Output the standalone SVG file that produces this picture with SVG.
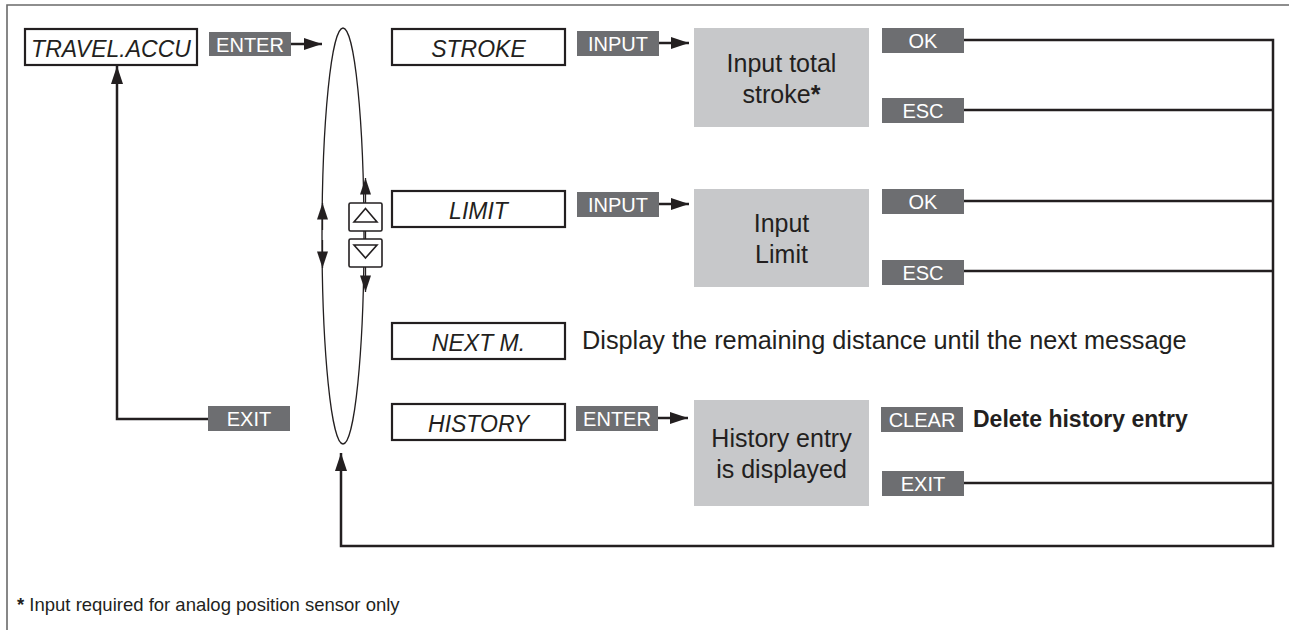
<svg xmlns="http://www.w3.org/2000/svg" width="1289" height="630" viewBox="0 0 1289 630">
<defs>
<style>
.box{fill:#fff;stroke:#231f20;stroke-width:2.2}
.it{font-family:"Liberation Sans",Arial,sans-serif;font-style:italic;font-size:23px;fill:#231f20;text-anchor:middle}
.btn{fill:#6d6e71}
.bt{font-family:"Liberation Sans",Arial,sans-serif;font-size:20px;fill:#fff;text-anchor:middle}
.gbox{fill:#c7c8ca}
.gt{font-family:"Liberation Sans",Arial,sans-serif;font-size:25px;fill:#231f20;text-anchor:middle}
.body{font-family:"Liberation Sans",Arial,sans-serif;font-size:25.3px;fill:#231f20}
.ln{fill:none;stroke:#231f20;stroke-width:2.5}
.thin{fill:none;stroke:#231f20;stroke-width:1.3}
</style>
<marker id="ah" viewBox="0 0 18 12" refX="18" refY="6" markerWidth="18" markerHeight="12" markerUnits="userSpaceOnUse" orient="auto">
<path d="M0,0 L18,6 L0,12 Z" fill="#231f20"/>
</marker>
<marker id="ahs" viewBox="0 0 18 12" refX="18" refY="6" markerWidth="17" markerHeight="11" markerUnits="userSpaceOnUse" orient="auto">
<path d="M0,0 L18,6 L0,12 Z" fill="#231f20"/>
</marker>
</defs>
<rect width="1289" height="630" fill="#fff"/>
<g id="frame">
<path d="M7,630 L7,5 L1289,5" fill="none" stroke="#6a6a6a" stroke-width="1.6"/>
</g>
<g id="connectors">
<line class="ln" x1="291" y1="44" x2="322" y2="44" marker-end="url(#ah)"/>
<line class="ln" x1="659" y1="43" x2="689" y2="43" marker-end="url(#ah)"/>
<line class="ln" x1="659" y1="204" x2="689" y2="204" marker-end="url(#ah)"/>
<line class="ln" x1="658" y1="418" x2="688" y2="418" marker-end="url(#ah)"/>
<path class="ln" d="M208,419 L117,419 L117,66" marker-end="url(#ah)"/>
<path class="ln" d="M964,40 L1273,40 L1273,546 L341,546 L341,453" marker-end="url(#ah)"/>
<line class="ln" x1="964" y1="110" x2="1273" y2="110"/>
<line class="ln" x1="964" y1="201" x2="1273" y2="201"/>
<line class="ln" x1="964" y1="271" x2="1273" y2="271"/>
<line class="ln" x1="964" y1="483" x2="1273" y2="483"/>
</g>
<g id="loop">
<ellipse cx="343" cy="236" rx="21" ry="208" class="thin"/>
<line x1="322.5" y1="230" x2="322.5" y2="203" class="thin" marker-end="url(#ahs)"/>
<line x1="322.5" y1="240" x2="322.5" y2="268" class="thin" marker-end="url(#ahs)"/>
<line x1="365.5" y1="205" x2="365.5" y2="178" class="thin" marker-end="url(#ahs)"/>
<line x1="365.5" y1="265" x2="365.5" y2="292" class="thin" marker-end="url(#ahs)"/>
</g>
<g id="updown">
<rect x="349" y="203" width="33" height="28" rx="1.5" fill="#fff" stroke="#231f20" stroke-width="1.6"/>
<rect x="349" y="239" width="33" height="28" rx="1.5" fill="#fff" stroke="#231f20" stroke-width="1.6"/>
<line x1="365.5" y1="231" x2="365.5" y2="239" class="thin"/>
<path d="M365.5,208.5 L377,222 L354,222 Z" fill="none" stroke="#231f20" stroke-width="1.6"/>
<path d="M365.5,258 L377,245 L354,245 Z" fill="none" stroke="#231f20" stroke-width="1.6"/>
</g>
<g id="travel-accu">
<rect class="box" x="25" y="29" width="172" height="36"/>
<text class="it" x="111" y="57">TRAVEL.ACCU</text>
</g>
<g id="enter-1"><rect class="btn" x="209" y="32" width="82" height="24"/><text class="bt" x="250" y="51.5">ENTER</text></g>
<g id="exit-1"><rect class="btn" x="208" y="406" width="82" height="25"/><text class="bt" x="249" y="425.5">EXIT</text></g>
<g id="stroke"><rect class="box" x="392" y="29" width="173" height="36"/><text class="it" x="478.5" y="57">STROKE</text></g>
<g id="input-1"><rect class="btn" x="577" y="31" width="82" height="25"/><text class="bt" x="618" y="50.5">INPUT</text></g>
<g id="input-total-stroke"><rect class="gbox" x="694" y="28" width="175" height="99"/>
<text class="gt" x="781.5" y="72">Input total</text><text class="gt" x="781.5" y="103">stroke<tspan font-weight="bold">*</tspan></text></g>
<g id="ok-1"><rect class="btn" x="882" y="28" width="82" height="25"/><text class="bt" x="923" y="47.5">OK</text></g>
<g id="esc-1"><rect class="btn" x="882" y="98" width="82" height="25"/><text class="bt" x="923" y="117.5">ESC</text></g>
<g id="limit"><rect class="box" x="392" y="191" width="173" height="36"/><text class="it" x="478.5" y="219">LIMIT</text></g>
<g id="input-2"><rect class="btn" x="577" y="192" width="82" height="25"/><text class="bt" x="618" y="211.5">INPUT</text></g>
<g id="input-limit"><rect class="gbox" x="694" y="189" width="175" height="98"/>
<text class="gt" x="781.5" y="232">Input</text><text class="gt" x="781.5" y="263">Limit</text></g>
<g id="ok-2"><rect class="btn" x="882" y="189" width="82" height="25"/><text class="bt" x="923" y="208.5">OK</text></g>
<g id="esc-2"><rect class="btn" x="882" y="260" width="82" height="25"/><text class="bt" x="923" y="279.5">ESC</text></g>
<g id="next-m"><rect class="box" x="392" y="323" width="173" height="36"/><text class="it" x="478.5" y="351">NEXT M.</text>
<text class="body" x="582" y="349">Display the remaining distance until the next message</text></g>
<g id="history"><rect class="box" x="392" y="404" width="173" height="36"/><text class="it" x="478.5" y="432">HISTORY</text></g>
<g id="enter-2"><rect class="btn" x="576" y="406" width="82" height="25"/><text class="bt" x="617" y="425.5">ENTER</text></g>
<g id="history-entry"><rect class="gbox" x="694" y="400" width="175" height="106"/>
<text class="gt" x="781.5" y="447">History entry</text><text class="gt" x="781.5" y="478">is displayed</text></g>
<g id="clear"><rect class="btn" x="881" y="407" width="82" height="25"/><text class="bt" x="922" y="426.5">CLEAR</text>
<text x="973" y="427" font-family="'Liberation Sans',Arial,sans-serif" font-size="23" font-weight="bold" fill="#231f20">Delete history entry</text></g>
<g id="exit-2"><rect class="btn" x="882" y="471" width="82" height="25"/><text class="bt" x="923" y="490.5">EXIT</text></g>
<g id="footnote"><text x="17" y="611" font-family="'Liberation Sans',Arial,sans-serif" font-size="18.5" fill="#231f20"><tspan font-weight="bold">*</tspan> Input required for analog position sensor only</text></g>
</svg>
